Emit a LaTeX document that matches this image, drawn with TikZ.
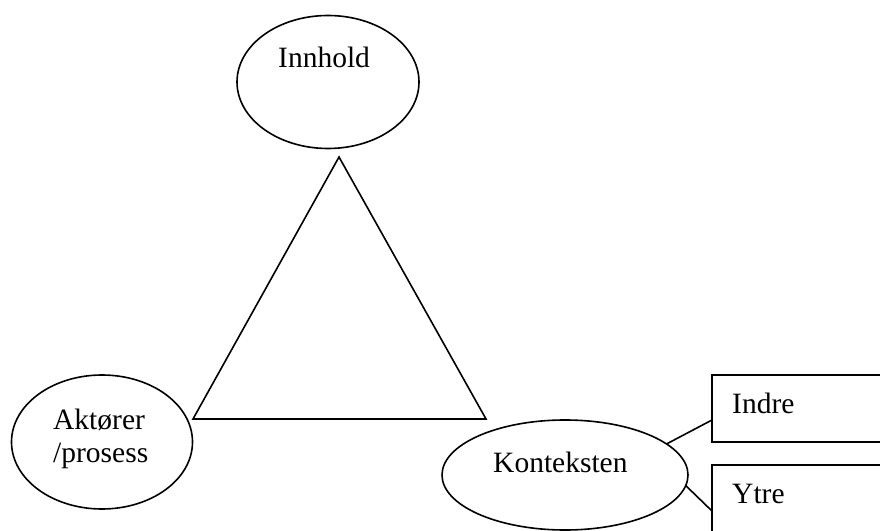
\documentclass[tikz,border=0pt]{standalone}
\usepackage{fontspec}
\setmainfont{Liberation Serif}
\usetikzlibrary{shapes.geometric}
\tikzset{
  oval/.style={draw, ellipse, line width=1.6bp, inner sep=0pt, outer sep=0pt},
  boxnode/.style={draw, line width=1.6bp},
  lbl/.style={anchor=base west, inner sep=0pt, font=\fontsize{29.5bp}{33bp}\selectfont, align=left},
  conn/.style={line width=1.6bp}
}
\begin{document}
\begin{tikzpicture}[x=1bp, y=-1bp]
\useasboundingbox (0,0) rectangle (880,531);
\clip (0,0) rectangle (880,531);
\fill[white] (0,0) rectangle (880,531);
% ellipses
\node[oval, minimum width=182bp, minimum height=133bp] (inn) at (328,82) {};
\node[oval, minimum width=181bp, minimum height=134bp] (akt) at (102,442) {};
\node[oval, minimum width=246bp, minimum height=110bp] (kont) at (565,475) {};
% triangle
\coordinate (ta) at (339,157);
\coordinate (tb) at (193,419);
\coordinate (tc) at (486,419);
\draw[conn, line join=miter] (ta) -- (tb) -- (tc) -- cycle;
% boxes
\draw[boxnode] (712,375) rectangle (905,442);
\draw[boxnode] (712,465) rectangle (905,545);
\coordinate (indreL) at (712,420);
\coordinate (ytreL) at (712,511);
\draw[conn] (kont.17.6) -- (indreL);
\draw[conn] (kont.-5.6) -- (ytreL);
% labels
\node[lbl] (tinn) at (278,68) {Innhold};
\node[lbl] (takt) at (53,462) {Aktører\\/prosess};
\node[lbl] (tkont) at (493,472) {Konteksten};
\node[lbl] (tindre) at (732,413) {Indre};
\node[lbl] (tytre) at (732,503) {Ytre};
\end{tikzpicture}
\end{document}
